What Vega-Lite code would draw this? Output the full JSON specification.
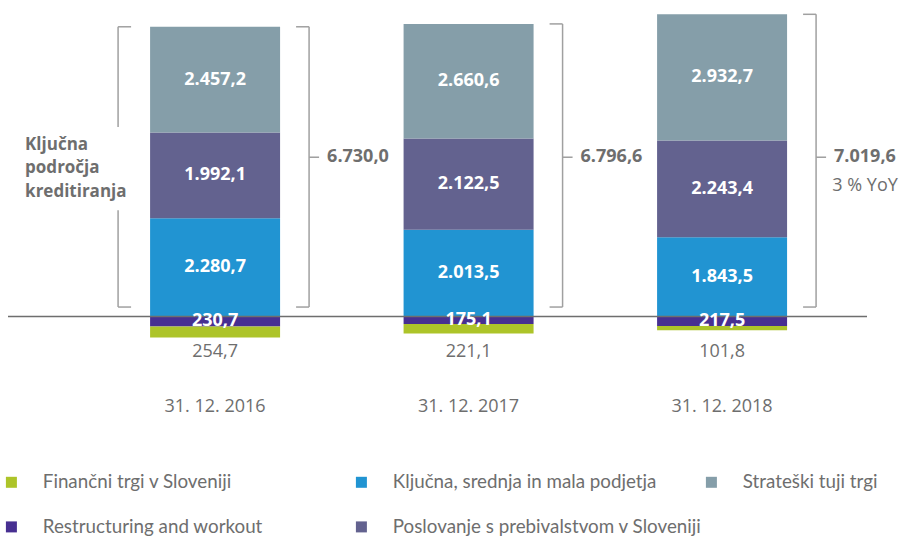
{
  "$schema": "https://vega.github.io/schema/vega-lite/v6.json",
  "width": 859,
  "height": 390,
  "autosize": "none",
  "padding": {"left": 8, "top": 0, "right": 36, "bottom": 147},
  "background": "white",
  "config": {
    "view": {"stroke": null},
    "font": "Open Sans",
    "locale": {"number": {"decimal": ",", "thousands": ".", "grouping": [3], "currency": ["", " €"]}}
  },
  "datasets": {
    "segs": [
      {"year": "31. 12. 2016", "segment": "Ključna, srednja in mala podjetja", "value": 2280.7, "ord": 1},
      {"year": "31. 12. 2016", "segment": "Poslovanje s prebivalstvom v Sloveniji", "value": 1992.1, "ord": 2},
      {"year": "31. 12. 2016", "segment": "Strateški tuji trgi", "value": 2457.2, "ord": 3},
      {"year": "31. 12. 2016", "segment": "Restructuring and workout", "value": -230.7, "ord": 1},
      {"year": "31. 12. 2016", "segment": "Finančni trgi v Sloveniji", "value": -254.7, "ord": 2},
      {"year": "31. 12. 2017", "segment": "Ključna, srednja in mala podjetja", "value": 2013.5, "ord": 1},
      {"year": "31. 12. 2017", "segment": "Poslovanje s prebivalstvom v Sloveniji", "value": 2122.5, "ord": 2},
      {"year": "31. 12. 2017", "segment": "Strateški tuji trgi", "value": 2660.6, "ord": 3},
      {"year": "31. 12. 2017", "segment": "Restructuring and workout", "value": -175.1, "ord": 1},
      {"year": "31. 12. 2017", "segment": "Finančni trgi v Sloveniji", "value": -221.1, "ord": 2},
      {"year": "31. 12. 2018", "segment": "Ključna, srednja in mala podjetja", "value": 1843.5, "ord": 1},
      {"year": "31. 12. 2018", "segment": "Poslovanje s prebivalstvom v Sloveniji", "value": 2243.4, "ord": 2},
      {"year": "31. 12. 2018", "segment": "Strateški tuji trgi", "value": 2932.7, "ord": 3},
      {"year": "31. 12. 2018", "segment": "Restructuring and workout", "value": -217.5, "ord": 1},
      {"year": "31. 12. 2018", "segment": "Finančni trgi v Sloveniji", "value": -101.8, "ord": 2}
    ],
    "totals": [
      {"year": "31. 12. 2016", "total": 6730.0, "note": ""},
      {"year": "31. 12. 2017", "total": 6796.6, "note": ""},
      {"year": "31. 12. 2018", "total": 7019.6, "note": "3 % YoY"}
    ]
  },
  "layer": [
    {
      "data": {"name": "segs"},
      "transform": [
        {"stack": "value", "groupby": ["year"], "sort": [{"field": "ord", "order": "ascending"}], "as": ["v0", "v1"]}
      ],
      "mark": {"type": "bar"},
      "encoding": {
        "x": {
          "field": "year", "type": "nominal",
          "scale": {"paddingInner": 0.4872, "paddingOuter": 0.4379, "align": 0.64},
          "axis": {"title": null, "ticks": false, "domain": false, "labelFontSize": 18, "labelColor": "#6e6e6e", "labelFont": "Open Sans", "labelPadding": 7, "labelAngle": 0}
        },
        "y": {"field": "v0", "type": "quantitative", "scale": {"domain": [-1707, 7352], "nice": false, "zero": false}, "axis": null},
        "y2": {"field": "v1"},
        "color": {
          "field": "segment", "type": "nominal",
          "scale": {
            "domain": ["Finančni trgi v Sloveniji", "Ključna, srednja in mala podjetja", "Strateški tuji trgi", "Restructuring and workout", "Poslovanje s prebivalstvom v Sloveniji"],
            "range": ["#adc429", "#2194d2", "#859ea9", "#472f91", "#63628f"]
          },
          "legend": {
            "title": null, "orient": "none", "legendX": -6, "legendY": 472.5, "direction": "horizontal",
            "columns": 3, "gridAlign": "all", "columnPadding": 0, "rowPadding": 25,
            "symbolType": "square", "symbolSize": 121, "symbolStrokeWidth": 0, "symbolOpacity": 1,
            "labelFontSize": 18.8, "labelColor": "#6e6e6e", "labelFont": "Lato", "labelOffset": 22, "labelLimit": 500, "padding": 0
          }
        }
      }
    },
    {
      "data": {"values": [{}]},
      "mark": {"type": "rule", "color": "#6e6e6e", "strokeWidth": 1.5},
      "encoding": {"y": {"datum": 0}}
    },
    {
      "data": {"name": "segs"},
      "transform": [
        {"stack": "value", "groupby": ["year"], "sort": [{"field": "ord", "order": "ascending"}], "as": ["v0", "v1"]},
        {"filter": "datum.segment !== 'Finančni trgi v Sloveniji'"},
        {"calculate": "(datum.v0 + datum.v1) / 2", "as": "mid"},
        {"calculate": "abs(datum.value)", "as": "amount"}
      ],
      "mark": {"type": "text", "color": "white", "fontWeight": "bold", "fontSize": 18, "baseline": "middle", "align": "center"},
      "encoding": {
        "x": {"field": "year", "type": "nominal"},
        "y": {"field": "mid", "type": "quantitative"},
        "text": {"field": "amount", "type": "quantitative", "format": ",.1f"}
      }
    },
    {
      "data": {"name": "segs"},
      "transform": [
        {"filter": "datum.segment === 'Finančni trgi v Sloveniji'"},
        {"calculate": "abs(datum.value)", "as": "amount"}
      ],
      "mark": {"type": "text", "color": "#6e6e6e", "fontSize": 18, "baseline": "middle", "align": "center"},
      "encoding": {
        "x": {"field": "year", "type": "nominal"},
        "y": {"datum": -825},
        "text": {"field": "amount", "type": "quantitative", "format": ",.1f"}
      }
    },
    {
      "data": {"name": "totals"},
      "mark": {"type": "rule", "color": "#a0a0a0", "strokeWidth": 1.5, "xOffset": 94},
      "encoding": {
        "x": {"field": "year", "type": "nominal"},
        "y": {"field": "total", "type": "quantitative"},
        "y2": {"datum": 220}
      }
    },
    {
      "data": {"name": "totals"},
      "mark": {"type": "tick", "color": "#a0a0a0", "thickness": 1.5, "size": 13, "xOffset": 87.5, "opacity": 1},
      "encoding": {
        "x": {"field": "year", "type": "nominal"},
        "y": {"field": "total", "type": "quantitative"}
      }
    },
    {
      "data": {"name": "totals"},
      "mark": {"type": "tick", "color": "#a0a0a0", "thickness": 1.5, "size": 13, "xOffset": 87.5, "opacity": 1},
      "encoding": {
        "x": {"field": "year", "type": "nominal"},
        "y": {"datum": 220}
      }
    },
    {
      "data": {"name": "totals"},
      "mark": {"type": "tick", "color": "#a0a0a0", "thickness": 1.5, "size": 10, "xOffset": 99, "opacity": 1},
      "encoding": {
        "x": {"field": "year", "type": "nominal"},
        "y": {"datum": 3700}
      }
    },
    {
      "data": {"name": "totals"},
      "transform": [{"filter": "datum.year === '31. 12. 2016'"}],
      "mark": {"type": "rule", "color": "#a0a0a0", "strokeWidth": 1.5, "xOffset": -97},
      "encoding": {
        "x": {"field": "year", "type": "nominal"},
        "y": {"field": "total", "type": "quantitative"},
        "y2": {"datum": 4400}
      }
    },
    {
      "data": {"name": "totals"},
      "transform": [{"filter": "datum.year === '31. 12. 2016'"}],
      "mark": {"type": "rule", "color": "#a0a0a0", "strokeWidth": 1.5, "xOffset": -97},
      "encoding": {
        "x": {"field": "year", "type": "nominal"},
        "y": {"datum": 2470},
        "y2": {"datum": 220}
      }
    },
    {
      "data": {"name": "totals"},
      "transform": [{"filter": "datum.year === '31. 12. 2016'"}],
      "mark": {"type": "tick", "color": "#a0a0a0", "thickness": 1.5, "size": 13, "xOffset": -90.5, "opacity": 1},
      "encoding": {
        "x": {"field": "year", "type": "nominal"},
        "y": {"field": "total", "type": "quantitative"}
      }
    },
    {
      "data": {"name": "totals"},
      "transform": [{"filter": "datum.year === '31. 12. 2016'"}],
      "mark": {"type": "tick", "color": "#a0a0a0", "thickness": 1.5, "size": 13, "xOffset": -90.5, "opacity": 1},
      "encoding": {
        "x": {"field": "year", "type": "nominal"},
        "y": {"datum": 220}
      }
    },
    {
      "data": {"name": "totals"},
      "mark": {"type": "text", "color": "#6e6e6e", "fontWeight": "bold", "fontSize": 18, "baseline": "middle", "align": "left", "xOffset": 112},
      "encoding": {
        "x": {"field": "year", "type": "nominal"},
        "y": {"datum": 3700},
        "text": {"field": "total", "type": "quantitative", "format": ",.1f"}
      }
    },
    {
      "data": {"name": "totals"},
      "mark": {"type": "text", "color": "#6e6e6e", "fontSize": 18, "baseline": "middle", "align": "center", "xOffset": 143, "yOffset": 29},
      "encoding": {
        "x": {"field": "year", "type": "nominal"},
        "y": {"datum": 3700},
        "text": {"field": "note", "type": "nominal"}
      }
    },
    {
      "data": {"name": "totals"},
      "transform": [{"filter": "datum.year === '31. 12. 2016'"}],
      "mark": {"type": "text", "color": "#6e6e6e", "fontWeight": "bold", "fontSize": 17, "lineHeight": 23.5, "baseline": "middle", "align": "left", "xOffset": -190, "text": ["Ključna", "področja", "kreditiranja"]},
      "encoding": {
        "x": {"field": "year", "type": "nominal"},
        "y": {"datum": 3984}
      }
    }
  ]
}
